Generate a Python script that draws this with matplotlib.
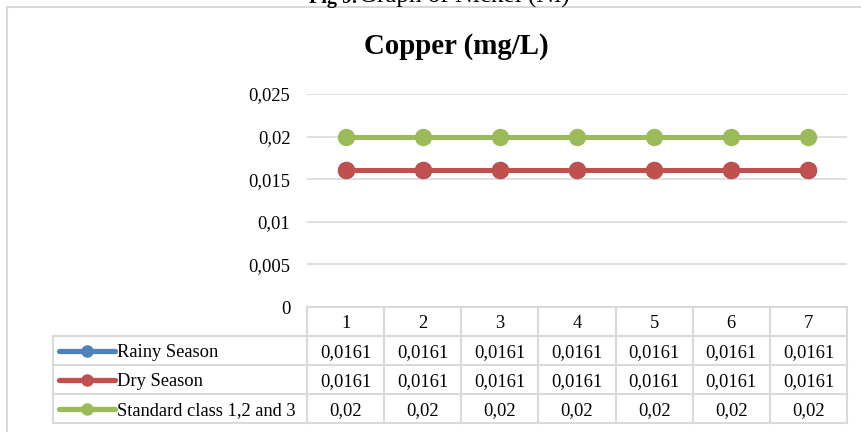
import matplotlib
matplotlib.use("Agg")
import matplotlib.pyplot as plt
from matplotlib.transforms import blended_transform_factory
from matplotlib.lines import Line2D

# ---- data ----
categories = [1, 2, 3, 4, 5, 6, 7]
series_names = ["Rainy Season", "Dry Season", "Standard class 1,2 and 3"]
rainy = [0.0161, 0.0161, 0.0161, 0.0161, 0.0161, 0.0161, 0.0161]
dry = [0.0161, 0.0161, 0.0161, 0.0161, 0.0161, 0.0161, 0.0161]
standard = [0.02, 0.02, 0.02, 0.02, 0.02, 0.02, 0.02]
yticks = [0, 0.005, 0.01, 0.015, 0.02, 0.025]
colors = ["#4F81BD", "#C0504D", "#9BBB59"]
title = "Copper (mg/L)"

plt.rcParams['font.family'] = ['Liberation Serif', 'DejaVu Serif']

W, H = 862, 432
fig = plt.figure(figsize=(W / 100, H / 100), dpi=100)
GRID = "#d9d9d9"


def fx(px):
    return px / W


def fy(py):
    return 1 - py / H


# outer frame (top + left edges visible)
fig.add_artist(Line2D([fx(7), 1], [fy(7), fy(7)], color=GRID, lw=1.5))
fig.add_artist(Line2D([fx(7), fx(7)], [fy(7), 0], color=GRID, lw=1.5))

# cut-off caption at top
fig.text(fx(357), fy(3), "Fig 9.", ha="right", va="baseline", fontsize=14.5, fontweight="bold")
fig.text(fx(359), fy(3), "Graph of Nickel (Ni)", ha="left", va="baseline", fontsize=18)

# title
fig.text(fx(456), fy(46), title, ha="center", va="center", fontsize=20.8, fontweight="bold")

# main axes
L, R, T, B = 307, 847, 94, 307
ax = fig.add_axes([fx(L), fy(B), fx(R - L), (B - T) / H])
ax.set_xlim(0.5, 7.5)
ax.set_ylim(0, 0.025)
for s in ax.spines.values():
    s.set_visible(False)
ax.set_xticks([])
ax.set_yticks(yticks)
ax.set_yticklabels([("%g" % v).replace(".", ",") for v in yticks], fontsize=13.3)
ax.tick_params(axis="y", length=0, pad=12)
for v in yticks[1:]:
    ax.axhline(v, color=GRID, lw=1.2, zorder=0)

for vals, c in zip([rainy, dry, standard], colors):
    ax.plot(categories, vals, color=c, lw=3.6, marker="o", markersize=11.5,
            solid_capstyle="round", clip_on=False, zorder=3)

# data table
TL, TT, TB = 53, 307, 423
tax = fig.add_axes([fx(TL), fy(TB), fx(R - TL), (TB - TT) / H])
upp = 7.0 / (R - L)  # data units per px
x0 = 0.5 - (L - TL) * upp
tax.set_xlim(x0, 7.5)
tax.set_ylim(4, 0)
tax.axis("off")
lw = 1.5
# horizontal lines
tax.plot([0.5, 7.5], [0, 0], color=GRID, lw=lw, clip_on=False)
for r in range(1, 5):
    tax.plot([x0, 7.5], [r, r], color=GRID, lw=lw, clip_on=False)
# vertical lines
for i in range(8):
    tax.plot([0.5 + i, 0.5 + i], [0, 4], color=GRID, lw=lw, clip_on=False)
tax.plot([x0, x0], [1, 4], color=GRID, lw=lw, clip_on=False)

fs = 13.3
for i, c in enumerate(categories):
    tax.text(c, 0.5, str(c), ha="center", va="center_baseline", fontsize=fs)

bt = blended_transform_factory(tax.transAxes, tax.transData)
tw = R - TL
for r, (name, vals, col) in enumerate(zip(series_names, [rainy, dry, standard], colors), start=1):
    yc = r + 0.5
    tax.plot([(59 - TL) / tw, (115 - TL) / tw], [yc, yc], color=col, lw=3.8,
             transform=bt, clip_on=False, solid_capstyle="round")
    tax.plot([(87 - TL) / tw], [yc], marker="o", markersize=8, color=col,
             transform=bt, clip_on=False)
    tax.text((117 - TL) / tw, yc, name, ha="left", va="center_baseline", fontsize=fs, transform=bt)
    for c, v in zip(categories, vals):
        tax.text(c, yc, ("%g" % v).replace(".", ","), ha="center", va="center_baseline", fontsize=fs)

fig.savefig("out.png", dpi=100)
